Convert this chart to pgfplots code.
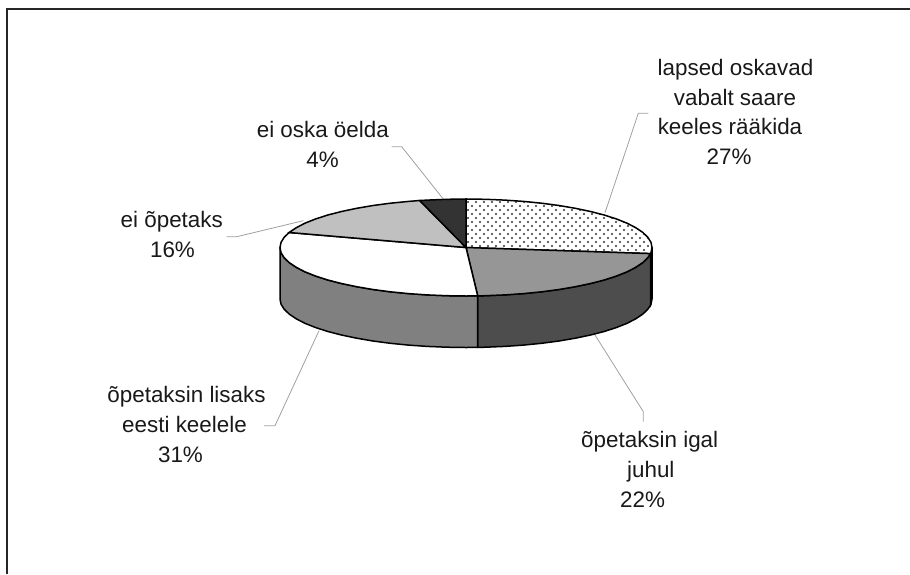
\documentclass[border=0pt]{standalone}
\usepackage{fontspec}
\setmainfont{Liberation Sans}
\usepackage{pgfplots}
\pgfplotsset{compat=1.18}
\usetikzlibrary{patterns}
\pgfdeclarepatternformonly{mydots}{\pgfqpoint{-1.5pt}{-1.5pt}}{\pgfqpoint{6.5pt}{6.5pt}}{\pgfqpoint{8pt}{8pt}}{%
  \pgfpathcircle{\pgfqpoint{0pt}{0pt}}{1.05pt}%
  \pgfpathcircle{\pgfqpoint{4pt}{4pt}}{1.05pt}%
  \pgfusepath{fill}}
\definecolor{wallR}{HTML}{4D4D4D}
\definecolor{wallL}{HTML}{808080}
\definecolor{topG}{HTML}{969696}
\definecolor{topL}{HTML}{C0C0C0}
\definecolor{topD}{HTML}{333333}
\definecolor{leader}{HTML}{A0A0A0}
\tikzset{lbl/.style={anchor=base, inner sep=0pt, font=\fontsize{22.4}{29}\selectfont, text=black!90}}
\begin{document}
\begin{tikzpicture}
\begin{axis}[
  scale only axis, width=910pt, height=574pt,
  xmin=0, xmax=910, ymin=0, ymax=574, y dir=reverse,
  hide axis, clip=true,
]
% frame
\addplot[draw=black!85, line width=1.6pt] coordinates {(6.7,574) (6.7,8.7) (910,8.7)};
% black wall strip
\addplot[fill=black, draw=black, line width=1.5pt] coordinates {
 (652.0,247.5) (651.0,252.6) (650.5,253.6)
 (650.5,305.1) (651.0,304.1) (652.0,299.0)} -- cycle;
% right wall (22%)
\addplot[fill=wallR, draw=black, line width=1.5pt] coordinates {
 (650.5,253.6) (647.9,257.6) (642.9,262.5) (635.9,267.2) (627.1,271.8) (616.5,276.0) (604.2,280.0) (590.5,283.5) (575.3,286.7) (559.0,289.5) (541.6,291.8) (523.5,293.6) (504.7,294.9) (485.4,295.7) (477.7,295.9)
 (477.7,347.4) (485.4,347.2) (504.7,346.4) (523.5,345.1) (541.6,343.3) (559.0,341.0) (575.3,338.2) (590.5,335.0) (604.2,331.5) (616.5,327.5) (627.1,323.3) (635.9,318.7) (642.9,314.0) (647.9,309.1) (650.5,305.1)} -- cycle;
% left wall (31%)
\addplot[fill=wallL, draw=black, line width=1.5pt] coordinates {
 (477.7,295.9) (466,296.0) (446.6,295.7) (427.3,294.9) (408.5,293.6) (390.4,291.8) (373.0,289.5) (356.7,286.7) (341.5,283.5) (327.8,280.0) (315.5,276.0) (304.9,271.8) (296.1,267.2) (289.1,262.5) (284.1,257.6) (281.0,252.6) (280.0,247.5)
 (280.0,299.0) (281.0,304.1) (284.1,309.1) (289.1,314.0) (296.1,318.7) (304.9,323.3) (315.5,327.5) (327.8,331.5) (341.5,335.0) (356.7,338.2) (373.0,341.0) (390.4,343.3) (408.5,345.1) (427.3,346.4) (446.6,347.2) (466,347.5) (477.7,347.4)} -- cycle;
% top 27% : white base, then dots
\addplot[fill=white, draw=none] coordinates {
 (466,247.5) (466,199.0) (485.4,199.3) (504.7,200.1) (523.5,201.4) (541.6,203.2) (559.0,205.5) (575.3,208.3) (590.5,211.5) (604.2,215.0) (616.5,219.0) (627.1,223.2) (635.9,227.8) (642.9,232.5) (647.9,237.4) (651.0,242.4) (652.0,247.5) (651.0,252.6) (650.5,253.6)} -- cycle;
\addplot[pattern=mydots, pattern color=black!80, draw=black, line width=1.5pt] coordinates {
 (466,247.5) (466,199.0) (485.4,199.3) (504.7,200.1) (523.5,201.4) (541.6,203.2) (559.0,205.5) (575.3,208.3) (590.5,211.5) (604.2,215.0) (616.5,219.0) (627.1,223.2) (635.9,227.8) (642.9,232.5) (647.9,237.4) (651.0,242.4) (652.0,247.5) (651.0,252.6) (650.5,253.6)} -- cycle;
% top 22%
\addplot[fill=topG, draw=black, line width=1.5pt] coordinates {
 (466,247.5) (650.5,253.6) (647.9,257.6) (642.9,262.5) (635.9,267.2) (627.1,271.8) (616.5,276.0) (604.2,280.0) (590.5,283.5) (575.3,286.7) (559.0,289.5) (541.6,291.8) (523.5,293.6) (504.7,294.9) (485.4,295.7) (477.7,295.9)} -- cycle;
% top 31%
\addplot[fill=white, draw=black, line width=1.5pt] coordinates {
 (466,247.5) (477.7,295.9) (466,296.0) (446.6,295.7) (427.3,294.9) (408.5,293.6) (390.4,291.8) (373.0,289.5) (356.7,286.7) (341.5,283.5) (327.8,280.0) (315.5,276.0) (304.9,271.8) (296.1,267.2) (289.1,262.5) (284.1,257.6) (281.0,252.6) (280.0,247.5) (281.0,242.4) (284.1,237.4) (289.1,232.5)} -- cycle;
% top 16%
\addplot[fill=topL, draw=black, line width=1.5pt] coordinates {
 (466,247.5) (289.1,232.5) (296.1,227.8) (304.9,223.2) (315.5,219.0) (327.8,215.0) (341.5,211.5) (356.7,208.3) (373.0,205.5) (390.4,203.2) (408.5,201.4) (419.7,200.5)} -- cycle;
% top 4%
\addplot[fill=topD, draw=black, line width=1.5pt] coordinates {
 (466,247.5) (419.7,200.5) (427.3,200.1) (446.6,199.3) (466,199.0)} -- cycle;
% leaders
\addplot[draw=leader, line width=0.8pt] coordinates {(648.3,113.3) (638.3,113.3) (605,212.7)};
\addplot[draw=leader, line width=0.8pt] coordinates {(391.7,146.7) (401.7,146.7) (442.7,198.3)};
\addplot[draw=leader, line width=0.8pt] coordinates {(226.7,236.7) (236.7,236.7) (303.3,220.7)};
\addplot[draw=leader, line width=0.8pt] coordinates {(264,425.7) (275,425.7) (319,330.7)};
\addplot[draw=leader, line width=0.8pt] coordinates {(643.3,421.7) (643.3,411.7) (595,335)};
% labels
\node[lbl] at (axis cs:735.5,75) {lapsed oskavad};
\node[lbl] at (axis cs:735,105) {vabalt saare};
\node[lbl] at (axis cs:730,134.3) {keeles rääkida};
\node[lbl] at (axis cs:729,164) {27\%};
\node[lbl] at (axis cs:322.8,137.3) {ei oska öelda};
\node[lbl] at (axis cs:322.5,167.7) {4\%};
\node[lbl] at (axis cs:171.8,227.3) {ei õpetaks};
\node[lbl] at (axis cs:172.5,257.3) {16\%};
\node[lbl] at (axis cs:186.5,402.3) {õpetaksin lisaks};
\node[lbl] at (axis cs:184.5,432.3) {eesti keelele};
\node[lbl] at (axis cs:180.5,462.3) {31\%};
\node[lbl] at (axis cs:649.7,447.3) {õpetaksin igal};
\node[lbl] at (axis cs:650.8,477.3) {juhul};
\node[lbl] at (axis cs:642.5,507.3) {22\%};
\end{axis}
\path[use as bounding box] (0,0) rectangle (910pt,574pt);
\end{tikzpicture}
\end{document}
